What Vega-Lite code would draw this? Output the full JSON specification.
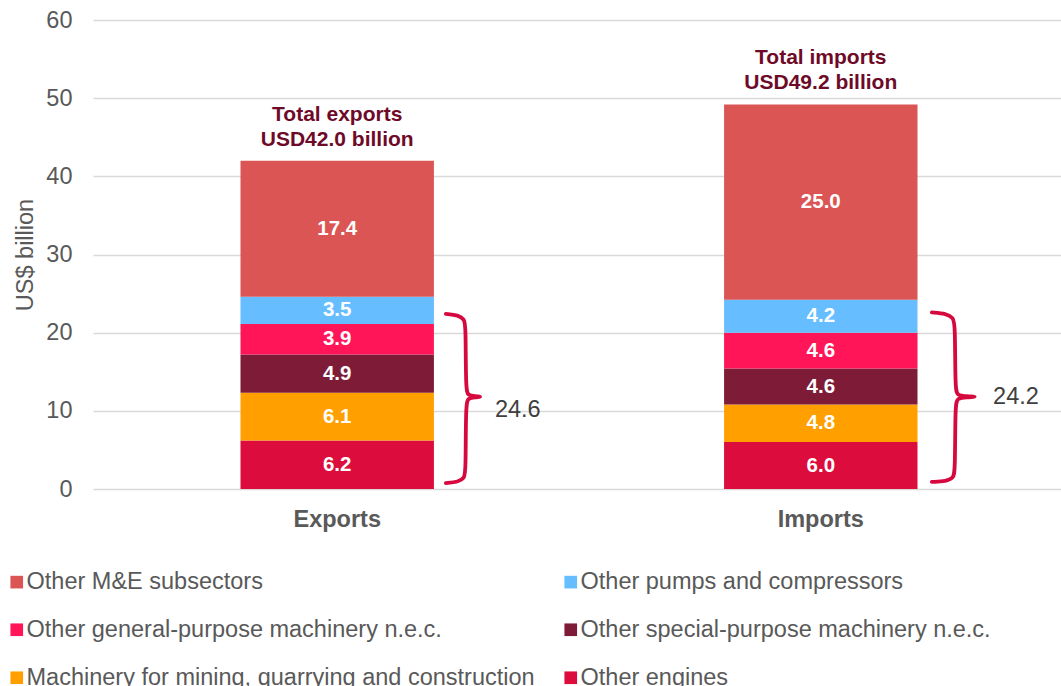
{
  "$schema": "https://vega.github.io/schema/vega-lite/v6.json",
  "width": 972,
  "height": 469,
  "autosize": {"type": "none"},
  "padding": {"left": 93, "top": 20, "right": 0, "bottom": 197},
  "config": {
    "font": "Liberation Sans",
    "view": {"stroke": null},
    "axis": {"labelColor": "#595959", "titleColor": "#595959"}
  },
  "datasets": {
    "main": [
      {"flow": "Exports", "cat": "Other engines", "value": 6.2},
      {"flow": "Exports", "cat": "Machinery for mining, quarrying and construction", "value": 6.1},
      {"flow": "Exports", "cat": "Other special-purpose machinery n.e.c.", "value": 4.9},
      {"flow": "Exports", "cat": "Other general-purpose machinery n.e.c.", "value": 3.9},
      {"flow": "Exports", "cat": "Other pumps and compressors", "value": 3.5},
      {"flow": "Exports", "cat": "Other M&E subsectors", "value": 17.4},
      {"flow": "Imports", "cat": "Other engines", "value": 6.0},
      {"flow": "Imports", "cat": "Machinery for mining, quarrying and construction", "value": 4.8},
      {"flow": "Imports", "cat": "Other special-purpose machinery n.e.c.", "value": 4.6},
      {"flow": "Imports", "cat": "Other general-purpose machinery n.e.c.", "value": 4.6},
      {"flow": "Imports", "cat": "Other pumps and compressors", "value": 4.2},
      {"flow": "Imports", "cat": "Other M&E subsectors", "value": 25.0}
    ],
    "totals": [
      {"flow": "Exports", "total": 42.0, "label": "Total exports\nUSD42.0 billion"},
      {"flow": "Imports", "total": 49.2, "label": "Total imports\nUSD49.2 billion"}
    ],
    "braces": [
      {"brace": "Exports", "i": 0, "pos": 0.726, "v": 22.4},
      {"brace": "Exports", "i": 1, "pos": 0.752, "v": 22.25},
      {"brace": "Exports", "i": 2, "pos": 0.764, "v": 21.7},
      {"brace": "Exports", "i": 3, "pos": 0.767, "v": 20.9},
      {"brace": "Exports", "i": 4, "pos": 0.767, "v": 12.6},
      {"brace": "Exports", "i": 5, "pos": 0.772, "v": 12.0},
      {"brace": "Exports", "i": 6, "pos": 0.785, "v": 11.85},
      {"brace": "Exports", "i": 7, "pos": 0.802, "v": 11.8},
      {"brace": "Exports", "i": 8, "pos": 0.785, "v": 11.75},
      {"brace": "Exports", "i": 9, "pos": 0.772, "v": 11.6},
      {"brace": "Exports", "i": 10, "pos": 0.767, "v": 11.0},
      {"brace": "Exports", "i": 11, "pos": 0.767, "v": 2.2},
      {"brace": "Exports", "i": 12, "pos": 0.764, "v": 1.4},
      {"brace": "Exports", "i": 13, "pos": 0.752, "v": 0.9},
      {"brace": "Exports", "i": 14, "pos": 0.726, "v": 0.75},
      {"brace": "Imports", "i": 0, "pos": 1.726, "v": 22.6},
      {"brace": "Imports", "i": 1, "pos": 1.756, "v": 22.45},
      {"brace": "Imports", "i": 2, "pos": 1.770, "v": 21.9},
      {"brace": "Imports", "i": 3, "pos": 1.774, "v": 21.1},
      {"brace": "Imports", "i": 4, "pos": 1.774, "v": 12.6},
      {"brace": "Imports", "i": 5, "pos": 1.779, "v": 12.0},
      {"brace": "Imports", "i": 6, "pos": 1.796, "v": 11.85},
      {"brace": "Imports", "i": 7, "pos": 1.823, "v": 11.8},
      {"brace": "Imports", "i": 8, "pos": 1.796, "v": 11.75},
      {"brace": "Imports", "i": 9, "pos": 1.779, "v": 11.6},
      {"brace": "Imports", "i": 10, "pos": 1.774, "v": 11.0},
      {"brace": "Imports", "i": 11, "pos": 1.774, "v": 2.2},
      {"brace": "Imports", "i": 12, "pos": 1.770, "v": 1.4},
      {"brace": "Imports", "i": 13, "pos": 1.756, "v": 1.0},
      {"brace": "Imports", "i": 14, "pos": 1.726, "v": 0.9}
    ],
    "braceLabels": [
      {"pos": 0.827, "v": 10.1, "label": "24.6"},
      {"pos": 1.852, "v": 11.8, "label": "24.2"}
    ]
  },
  "layer": [
    {
      "layer": [
        {
          "data": {"name": "main"},
          "transform": [
            {"calculate": "indexof(['Other M&E subsectors','Other pumps and compressors','Other general-purpose machinery n.e.c.','Other special-purpose machinery n.e.c.','Machinery for mining, quarrying and construction','Other engines'], datum.cat)", "as": "k"},
            {"stack": "value", "groupby": ["flow"], "sort": [{"field": "k", "order": "descending"}], "as": ["y0", "y1"]},
            {"calculate": "(datum.y0 + datum.y1) / 2", "as": "ymid"}
          ],
          "layer": [
            {
              "mark": {"type": "bar"},
              "encoding": {
                "x": {
                  "field": "flow", "type": "nominal",
                  "scale": {"paddingInner": 0.6, "paddingOuter": 0.305},
                  "axis": {"title": null, "labelAngle": 0, "labelFontSize": 23.5, "labelFontWeight": "bold", "labelPadding": 18, "ticks": false, "domain": false}
                },
                "y": {
                  "field": "y0", "type": "quantitative",
                  "scale": {"domain": [0, 60], "nice": false},
                  "axis": {"title": "US$ billion", "titleFontSize": 23.5, "titleFontWeight": "normal", "titlePadding": 8, "labelFontSize": 23.5, "labelPadding": 21, "tickCount": 6, "ticks": false, "domain": false, "gridColor": "#D9D9D9", "gridWidth": 1.3}
                },
                "y2": {"field": "y1"},
                "color": {
                  "field": "cat", "type": "nominal",
                  "scale": {
                    "domain": ["Other M&E subsectors", "Other pumps and compressors", "Other general-purpose machinery n.e.c.", "Other special-purpose machinery n.e.c.", "Machinery for mining, quarrying and construction", "Other engines"],
                    "range": ["#DB5555", "#66BDFF", "#FF1558", "#7E1C38", "#FFA000", "#DC0C3C"]
                  },
                  "legend": {
                    "title": null, "orient": "none", "legendX": -88, "legendY": 550, "columns": 2, "direction": "horizontal",
                    "padding": 0,
                    "symbolType": "square", "symbolSize": 160, "symbolStrokeWidth": 0, "symbolOpacity": 1,
                    "labelFontSize": 23.5, "labelColor": "#595959", "labelOffset": -2, "labelLimit": 600,
                    "rowPadding": 23, "columnPadding": 24
                  }
                }
              }
            },
            {
              "mark": {"type": "text", "color": "white", "fontWeight": "bold", "fontSize": 20.5, "baseline": "middle"},
              "encoding": {
                "x": {"field": "flow", "type": "nominal"},
                "y": {"field": "ymid", "type": "quantitative"},
                "text": {"field": "value", "type": "quantitative", "format": ".1f"}
              }
            }
          ]
        },
        {
          "data": {"name": "totals"},
          "mark": {"type": "text", "color": "#6E0A28", "fontWeight": "bold", "fontSize": 21, "baseline": "bottom", "lineBreak": "\n", "lineHeight": 25, "dy": -36},
          "encoding": {
            "x": {"field": "flow", "type": "nominal"},
            "y": {"field": "total", "type": "quantitative"},
            "text": {"field": "label"}
          }
        }
      ]
    },
    {
      "layer": [
        {
          "data": {"name": "braces"},
          "mark": {"type": "line", "color": "#D6093F", "strokeWidth": 3.8, "interpolate": "basis", "strokeCap": "round"},
          "encoding": {
            "x": {"field": "pos", "type": "quantitative", "scale": {"domain": [0, 2], "nice": false, "zero": false}, "axis": null},
            "y": {"field": "v", "type": "quantitative"},
            "detail": {"field": "brace"},
            "order": {"field": "i"}
          }
        },
        {
          "data": {"name": "braceLabels"},
          "mark": {"type": "text", "color": "#404040", "fontSize": 23.5, "align": "left", "baseline": "middle"},
          "encoding": {
            "x": {"field": "pos", "type": "quantitative"},
            "y": {"field": "v", "type": "quantitative"},
            "text": {"field": "label"}
          }
        }
      ]
    }
  ],
  "resolve": {"scale": {"x": "independent"}}
}
